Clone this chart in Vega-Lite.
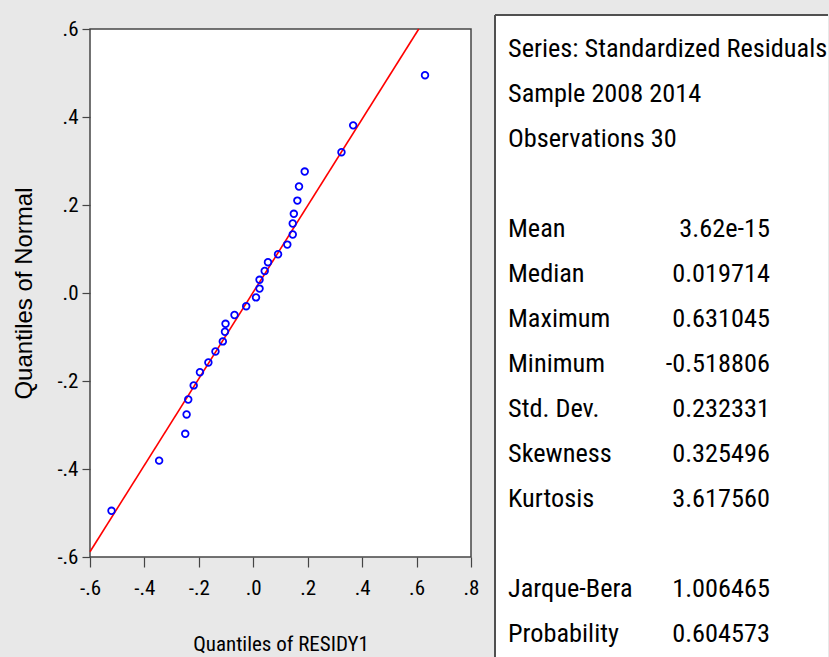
{
  "$schema": "https://vega.github.io/schema/vega-lite/v6.json",
  "background": "#e8e8e8",
  "padding": {"left": 12, "top": 13, "right": 0, "bottom": 0},
  "spacing": 14,
  "config": {"view": {"stroke": null}},
  "hconcat": [
    {
      "width": 381,
      "height": 528,
      "view": {"fill": "white", "stroke": "#454545", "strokeWidth": 1.5},
      "layer": [
        {
          "data": {"values": [{"x": -0.6, "y": -0.588}, {"x": 0.608, "y": 0.6}]},
          "mark": {"type": "line", "color": "#ff0000", "strokeWidth": 1.6},
          "encoding": {
            "x": {
              "field": "x", "type": "quantitative",
              "scale": {"domain": [-0.6, 0.8], "nice": false, "zero": false},
              "axis": {
                "values": [-0.6, -0.4, -0.2, 0, 0.2, 0.4, 0.6, 0.8],
                "labelExpr": "(datum.value < -0.001 ? '-' : '') + replace(format(abs(datum.value), '.1f'), '0.', '.')",
                "grid": false, "domain": false,
                "tickSize": 10, "tickColor": "#444", "tickWidth": 1.2,
                "labelFont": "Roboto Condensed", "labelFontSize": 21, "labelColor": "#000",
                "labelPadding": 10, "labelFlush": false, "labelOverlap": false,
                "title": "Quantiles of RESIDY1",
                "titleFont": "Roboto Condensed", "titleFontSize": 21, "titleFontWeight": "normal",
                "titleColor": "#000", "titlePadding": 35
              }
            },
            "y": {
              "field": "y", "type": "quantitative",
              "scale": {"domain": [-0.6, 0.6], "nice": false, "zero": false},
              "axis": {
                "values": [-0.6, -0.4, -0.2, 0, 0.2, 0.4, 0.6],
                "labelExpr": "(datum.value < -0.001 ? '-' : '') + replace(format(abs(datum.value), '.1f'), '0.', '.')",
                "grid": false, "domain": false,
                "tickSize": 8, "tickColor": "#444", "tickWidth": 1.2,
                "labelFont": "Roboto Condensed", "labelFontSize": 21, "labelColor": "#000",
                "labelPadding": 4, "labelFlush": false, "labelOverlap": false,
                "title": "Quantiles of Normal",
                "titleFont": "Liberation Sans", "titleFontSize": 24, "titleFontWeight": "normal",
                "titleColor": "#000", "titlePadding": 20
              }
            }
          }
        },
        {
          "data": {"values": [
            {"x": -0.521, "y": -0.495}, {"x": -0.346, "y": -0.381}, {"x": -0.250, "y": -0.320},
            {"x": -0.245, "y": -0.276}, {"x": -0.239, "y": -0.242}, {"x": -0.219, "y": -0.210},
            {"x": -0.196, "y": -0.180}, {"x": -0.165, "y": -0.158}, {"x": -0.139, "y": -0.133},
            {"x": -0.112, "y": -0.110}, {"x": -0.104, "y": -0.088}, {"x": -0.102, "y": -0.070},
            {"x": -0.069, "y": -0.050}, {"x": -0.026, "y": -0.030}, {"x": 0.010, "y": -0.010},
            {"x": 0.023, "y": 0.010}, {"x": 0.023, "y": 0.030}, {"x": 0.042, "y": 0.050},
            {"x": 0.054, "y": 0.070}, {"x": 0.091, "y": 0.088}, {"x": 0.125, "y": 0.110},
            {"x": 0.145, "y": 0.133}, {"x": 0.145, "y": 0.158}, {"x": 0.149, "y": 0.180},
            {"x": 0.162, "y": 0.210}, {"x": 0.168, "y": 0.242}, {"x": 0.189, "y": 0.276},
            {"x": 0.324, "y": 0.320}, {"x": 0.367, "y": 0.381}, {"x": 0.631, "y": 0.495}
          ]},
          "mark": {"type": "point", "shape": "circle", "filled": false, "color": "#0000ff", "size": 44, "strokeWidth": 1.8, "opacity": 1},
          "encoding": {
            "x": {"field": "x", "type": "quantitative"},
            "y": {"field": "y", "type": "quantitative"}
          }
        }
      ]
    },
    {
      "width": 333,
      "height": 629,
      "view": {"fill": "white", "stroke": null},
      "layer": [
        {
          "data": {"values": [{}]},
          "mark": {"type": "rect", "color": "white", "opacity": 1},
          "encoding": {
            "x": {"datum": -0.0496, "type": "quantitative", "scale": {"domain": [-0.0496, 1.2214], "nice": false, "zero": false}, "axis": null},
            "x2": {"datum": 1.2214},
            "y": {"datum": -0.7556, "type": "quantitative", "scale": {"domain": [-0.4444, 13.5333], "nice": false, "zero": false, "reverse": true}, "axis": null},
            "y2": {"datum": 13.5333}
          }
        },
        {
          "data": {"values": [{}]},
          "mark": {"type": "rule", "color": "#505050", "strokeWidth": 2},
          "encoding": {
            "x": {"datum": -0.0496, "type": "quantitative"},
            "y": {"datum": -0.7556, "type": "quantitative"},
            "y2": {"datum": 13.5333}
          }
        },
        {
          "data": {"values": [{}]},
          "mark": {"type": "rule", "color": "#505050", "strokeWidth": 2},
          "encoding": {
            "x": {"datum": -0.0496, "type": "quantitative"},
            "x2": {"datum": 1.2214},
            "y": {"datum": -0.7556, "type": "quantitative"}
          }
        },
        {
          "data": {"name": "stats", "values": [
            {"row": 0, "label": "Series: Standardized Residuals", "value": ""},
            {"row": 1, "label": "Sample 2008 2014", "value": ""},
            {"row": 2, "label": "Observations 30", "value": ""},
            {"row": 4, "label": "Mean", "value": "3.62e-15"},
            {"row": 5, "label": "Median", "value": "0.019714"},
            {"row": 6, "label": "Maximum", "value": "0.631045"},
            {"row": 7, "label": "Minimum", "value": "-0.518806"},
            {"row": 8, "label": "Std. Dev.", "value": "0.232331"},
            {"row": 9, "label": "Skewness", "value": "0.325496"},
            {"row": 10, "label": "Kurtosis", "value": "3.617560"},
            {"row": 12, "label": "Jarque-Bera", "value": "1.006465"},
            {"row": 13, "label": "Probability", "value": "0.604573"}
          ]},
          "mark": {"type": "text", "align": "left", "baseline": "middle", "font": "Roboto Condensed", "fontSize": 26.3, "color": "#000"},
          "encoding": {
            "x": {"datum": 0, "type": "quantitative"},
            "y": {"field": "row", "type": "quantitative"},
            "text": {"field": "label"}
          }
        },
        {
          "data": {"name": "stats"},
          "mark": {"type": "text", "align": "right", "baseline": "middle", "font": "Roboto Condensed", "fontSize": 26.3, "color": "#000"},
          "encoding": {
            "x": {"datum": 1, "type": "quantitative"},
            "y": {"field": "row", "type": "quantitative"},
            "text": {"field": "value"}
          }
        }
      ]
    }
  ]
}
